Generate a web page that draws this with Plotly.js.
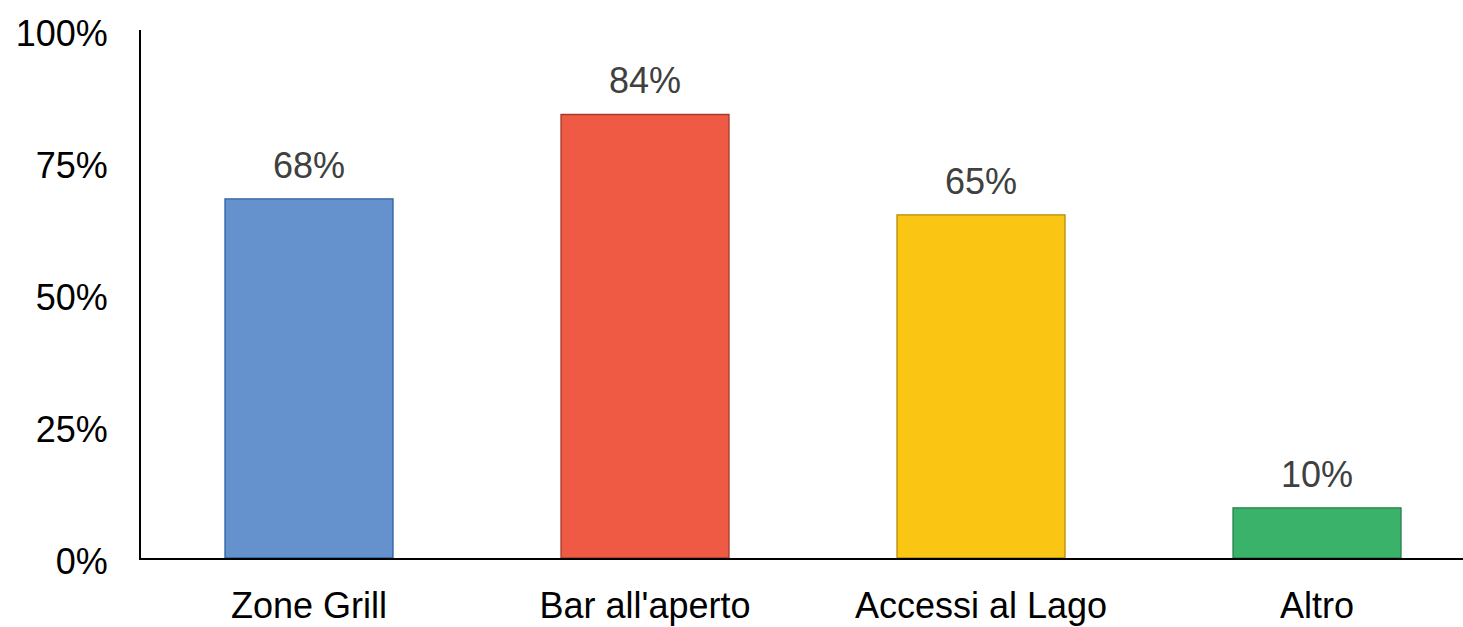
<!DOCTYPE html>
<html>
<head>
<meta charset="utf-8">
<script src="https://cdn.plot.ly/plotly-3.0.1.min.js"></script>
<style>
html,body{margin:0;padding:0;background:#fff;overflow:hidden;}
#chart{width:1463px;height:627px;}
</style>
</head>
<body>
<div id="chart"></div>
<script>
const categories = ["Zone Grill", "Bar all'aperto", "Accessi al Lago", "Altro"];
const values = [0.68, 0.84, 0.65, 0.095];
const valueLabels = ["68%", "84%", "65%", "10%"];
const yTickValues = [0, 0.25, 0.5, 0.75, 1];
const yTickLabels = ["0%", "25%", "50%", "75%", "100%"];
const barColors = ["#6592CD", "#EF5A45", "#FBC513", "#3BB26A"];
const barLineColors = ["#2D5FA3", "#A63A2B", "#B58C0F", "#2A8049"];

const trace = {
  type: "bar",
  x: categories,
  y: values,
  width: 0.5,
  marker: {color: barColors, line: {color: barLineColors, width: 1.3}},
  cliponaxis: false,
  hoverinfo: "skip"
};

const annotations = categories.map((c, i) => ({
  x: c,
  y: values[i],
  xref: "x",
  yref: "y",
  text: valueLabels[i],
  showarrow: false,
  xanchor: "center",
  yanchor: "bottom",
  yshift: 11,
  font: {family: "Liberation Sans, Arial, sans-serif", size: 36, color: "#404040"}
}));

const layout = {
  width: 1463,
  height: 627,
  margin: {l: 141, r: 0, t: 30, b: 68.5},
  paper_bgcolor: "#ffffff",
  plot_bgcolor: "#ffffff",
  showlegend: false,
  font: {family: "Liberation Sans, Arial, sans-serif", size: 36, color: "#000000"},
  annotations: annotations,
  xaxis: {
    type: "category",
    range: [-0.5, 3.4345],
    showgrid: false,
    zeroline: false,
    showline: true,
    linecolor: "#000000",
    linewidth: 2,
    ticks: "",
    ticklabelstandoff: 15,
    tickfont: {size: 36, color: "#000000"},
    fixedrange: true
  },
  yaxis: {
    range: [0, 1],
    tickvals: yTickValues,
    ticktext: yTickLabels,
    showgrid: false,
    zeroline: false,
    showline: true,
    linecolor: "#000000",
    linewidth: 2,
    ticks: "",
    ticklabelstandoff: 24,
    ticklabelshift: 3,
    tickfont: {size: 36, color: "#000000"},
    fixedrange: true
  }
};

Plotly.newPlot("chart", [trace], layout, {displayModeBar: false, staticPlot: true});
</script>
</body>
</html>
